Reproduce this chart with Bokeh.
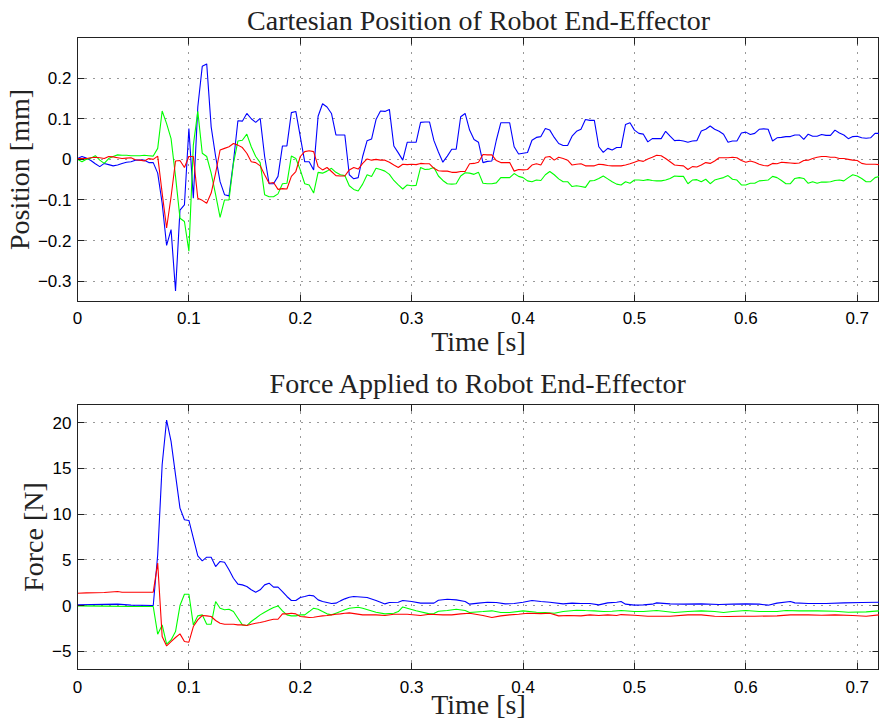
from bokeh.plotting import figure
from bokeh.models import LinearAxis, FixedTicker, Range1d
from bokeh.layouts import column
from bokeh.embed import file_html
from bokeh.resources import INLINE

# ---------------- data ----------------
SAMPLE_PERIOD = 0.004  # s, sampling of the position signals (181 samples, 0 .. 0.72 s)

# Cartesian position of end-effector [mm], one value per sample
POS_BLUE = [
    0.002, 0.007, 0.003, -0.003, -0.011, -0.018, -0.010, -0.013, -0.016, -0.014,
    -0.010, -0.007, -0.006, -0.002, -0.002, -0.002, -0.008, -0.008, -0.034, -0.108,
    -0.212, -0.173, -0.324, -0.125, -0.112, 0.076, -0.096, 0.129, 0.229, 0.235,
    0.080, 0.007, -0.055, -0.087, -0.090, -0.006, 0.095, 0.094, 0.113, 0.100,
    0.091, 0.101, 0.007, -0.060, -0.060, -0.042, 0.033, 0.033, 0.115, 0.118,
    0.056, -0.006, -0.006, -0.026, 0.106, 0.137, 0.129, 0.113, 0.060, 0.060,
    0.060, -0.038, -0.048, -0.045, 0.007, 0.046, 0.050, 0.098, 0.119, 0.118,
    0.123, 0.033, 0.016, -0.002, 0.042, 0.042, 0.042, 0.091, 0.092, 0.092,
    0.046, 0.018, -0.007, 0.008, 0.025, 0.025, 0.105, 0.113, 0.072, 0.049,
    0.042, -0.008, -0.005, -0.004, 0.047, 0.090, 0.090, 0.090, 0.031, 0.013,
    0.015, 0.017, 0.047, 0.054, 0.056, 0.076, 0.072, 0.054, 0.039, 0.034,
    0.034, 0.057, 0.069, 0.074, 0.098, 0.096, 0.096, 0.031, 0.017, 0.027,
    0.023, 0.029, 0.029, 0.086, 0.090, 0.072, 0.064, 0.062, 0.043, 0.051,
    0.051, 0.051, 0.069, 0.057, 0.046, 0.047, 0.045, 0.042, 0.045, 0.046,
    0.070, 0.074, 0.082, 0.074, 0.069, 0.062, 0.042, 0.045, 0.045, 0.065,
    0.067, 0.061, 0.064, 0.074, 0.075, 0.074, 0.045, 0.053, 0.054, 0.056,
    0.056, 0.060, 0.060, 0.049, 0.062, 0.057, 0.057, 0.061, 0.059, 0.059,
    0.072, 0.065, 0.060, 0.051, 0.056, 0.057, 0.053, 0.052, 0.053, 0.064, 0.064,
]
POS_GREEN = [
    0.000, -0.006, 0.000, 0.003, 0.009, -0.002, -0.010, 0.002, 0.007, 0.011,
    0.010, 0.010, 0.009, 0.009, 0.009, 0.010, 0.009, 0.008, 0.027, 0.119,
    0.088, 0.051, -0.042, -0.145, -0.153, -0.226, 0.035, 0.118, 0.015, 0.007,
    -0.034, -0.087, -0.143, -0.100, -0.100, -0.010, 0.045, 0.047, 0.062, 0.031,
    0.007, -0.008, -0.087, -0.092, -0.092, -0.085, -0.060, -0.059, 0.008, 0.002,
    -0.026, -0.060, -0.063, -0.083, -0.032, -0.034, -0.029, -0.022, -0.032, -0.038,
    -0.040, -0.065, -0.074, -0.078, -0.061, -0.038, -0.042, -0.022, -0.025, -0.029,
    -0.037, -0.052, -0.063, -0.073, -0.063, -0.065, -0.064, -0.020, -0.025, -0.024,
    -0.020, -0.041, -0.052, -0.060, -0.061, -0.060, -0.041, -0.033, -0.034, -0.037,
    -0.032, -0.059, -0.060, -0.060, -0.058, -0.045, -0.045, -0.045, -0.035, -0.042,
    -0.045, -0.053, -0.055, -0.051, -0.052, -0.038, -0.030, -0.038, -0.048, -0.055,
    -0.055, -0.067, -0.065, -0.067, -0.069, -0.053, -0.052, -0.047, -0.041, -0.048,
    -0.055, -0.061, -0.063, -0.055, -0.059, -0.051, -0.051, -0.052, -0.050, -0.052,
    -0.053, -0.053, -0.051, -0.047, -0.041, -0.042, -0.042, -0.060, -0.051, -0.050,
    -0.055, -0.049, -0.060, -0.051, -0.048, -0.045, -0.040, -0.049, -0.051, -0.063,
    -0.063, -0.059, -0.059, -0.053, -0.052, -0.051, -0.042, -0.045, -0.052, -0.060,
    -0.060, -0.047, -0.045, -0.047, -0.059, -0.055, -0.059, -0.056, -0.056, -0.055,
    -0.052, -0.051, -0.053, -0.045, -0.038, -0.041, -0.047, -0.055, -0.055, -0.045, -0.042,
]
POS_RED = [
    0.002, 0.002, 0.002, 0.004, 0.005, 0.004, 0.002, 0.007, 0.006, 0.004,
    0.002, 0.003, 0.004, -0.001, -0.002, -0.004, 0.002, 0.000, 0.008, -0.083,
    -0.169, -0.092, -0.004, -0.003, -0.020, 0.007, 0.007, -0.096, -0.101, -0.108,
    -0.083, -0.034, 0.023, 0.027, 0.031, 0.039, 0.035, 0.029, 0.015, -0.006,
    -0.008, -0.016, -0.038, -0.059, -0.057, -0.074, -0.072, -0.073, -0.042, -0.030,
    0.007, 0.019, 0.021, 0.019, -0.018, -0.026, -0.020, -0.030, -0.040, -0.041,
    -0.041, -0.026, -0.020, -0.024, -0.010, 0.001, -0.002, 0.000, -0.002, -0.002,
    -0.007, -0.014, -0.020, -0.012, -0.013, -0.012, -0.013, -0.010, -0.011, -0.011,
    -0.022, -0.028, -0.029, -0.029, -0.032, -0.032, -0.030, -0.030, -0.011, -0.010,
    -0.007, 0.012, 0.011, 0.011, -0.003, -0.008, -0.008, -0.008, -0.029, -0.025,
    -0.026, -0.025, -0.014, -0.011, -0.014, 0.005, 0.007, -0.002, 0.005, 0.002,
    -0.002, -0.014, -0.012, -0.011, -0.016, -0.016, -0.016, -0.012, -0.013, -0.015,
    -0.016, -0.016, -0.016, -0.014, -0.011, -0.007, -0.003, -0.005, 0.001, 0.005,
    0.010, 0.009, 0.002, -0.006, -0.014, -0.015, -0.016, -0.025, -0.018, -0.019,
    -0.014, -0.008, -0.010, -0.004, 0.004, 0.004, 0.004, 0.005, 0.004, -0.003,
    -0.007, -0.004, -0.007, -0.012, -0.015, -0.016, -0.010, -0.011, -0.007, -0.008,
    -0.009, -0.010, -0.009, -0.003, -0.002, 0.002, 0.005, 0.007, 0.007, 0.005,
    0.005, 0.002, 0.002, 0.000, -0.002, -0.003, -0.010, -0.012, -0.012, -0.012, -0.013,
]

# Force applied to end-effector [N], (time [s], force [N]) at the visible vertices
FORCE_BLUE = [
    (0.000, 0.07), (0.036, 0.15), (0.048, 0.04), (0.068, 0.00), (0.072, 5.55),
    (0.076, 15.40), (0.080, 20.30), (0.084, 17.96), (0.088, 14.30), (0.092, 10.66),
    (0.096, 9.38), (0.100, 9.31), (0.104, 7.37), (0.108, 5.44), (0.112, 4.89),
    (0.116, 5.29), (0.120, 5.29), (0.124, 4.27), (0.128, 4.82), (0.132, 4.74),
    (0.136, 3.91), (0.140, 2.99), (0.144, 2.34), (0.148, 2.26), (0.152, 2.08),
    (0.156, 1.72), (0.160, 1.46), (0.164, 1.72), (0.168, 2.26), (0.172, 2.45),
    (0.176, 2.01), (0.180, 2.01), (0.184, 1.53), (0.188, 0.99), (0.192, 0.55),
    (0.196, 0.55), (0.200, 0.88), (0.204, 0.99), (0.208, 1.13), (0.212, 1.06),
    (0.216, 0.62), (0.220, 0.44), (0.224, 0.33), (0.228, 0.22), (0.232, 0.26),
    (0.236, 0.51), (0.240, 0.73), (0.244, 0.91), (0.248, 0.99), (0.260, 0.88),
    (0.268, 0.55), (0.276, 0.18), (0.280, 0.33), (0.288, 0.36), (0.292, 0.55),
    (0.300, 0.44), (0.308, 0.26), (0.316, 0.26), (0.320, 0.26), (0.324, 0.58),
    (0.332, 0.69), (0.340, 0.62), (0.348, 0.44), (0.352, 0.15), (0.360, 0.26),
    (0.368, 0.36), (0.376, 0.33), (0.384, 0.18), (0.392, 0.22), (0.400, 0.36),
    (0.408, 0.55), (0.416, 0.44), (0.424, 0.36), (0.436, 0.18), (0.444, 0.26),
    (0.452, 0.22), (0.460, 0.22), (0.468, 0.07), (0.476, 0.29), (0.484, 0.36),
    (0.488, 0.44), (0.492, 0.15), (0.500, 0.04), (0.508, 0.07), (0.516, 0.15),
    (0.520, 0.29), (0.532, 0.18), (0.544, 0.15), (0.560, 0.18), (0.576, 0.11),
    (0.588, 0.15), (0.600, 0.18), (0.612, 0.15), (0.620, 0.04), (0.628, 0.26),
    (0.640, 0.44), (0.644, 0.29), (0.656, 0.22), (0.672, 0.22), (0.688, 0.29),
    (0.704, 0.33), (0.720, 0.36),
]
FORCE_GREEN = [
    (0.000, -0.04), (0.024, -0.07), (0.048, -0.11), (0.068, -0.11), (0.072, -3.14),
    (0.076, -2.12), (0.080, -4.23), (0.084, -3.76), (0.088, -2.85), (0.092, 0.00),
    (0.096, 1.24), (0.100, 1.24), (0.104, -2.12), (0.108, -1.13), (0.112, -1.02),
    (0.116, -2.04), (0.120, -2.04), (0.124, 0.44), (0.128, -0.29), (0.132, -0.47),
    (0.136, -0.40), (0.140, -0.66), (0.144, -1.39), (0.148, -2.12), (0.152, -2.19),
    (0.156, -1.75), (0.160, -1.39), (0.164, -1.02), (0.168, -0.73), (0.172, -0.47),
    (0.176, -0.22), (0.180, -0.04), (0.184, -0.58), (0.188, -1.02), (0.192, -1.13),
    (0.196, -1.13), (0.200, -1.02), (0.204, -1.02), (0.208, -0.66), (0.212, -0.29),
    (0.216, -0.40), (0.220, -0.66), (0.224, -0.91), (0.228, -1.02), (0.232, -0.84),
    (0.236, -0.66), (0.240, -0.47), (0.244, -0.29), (0.252, -0.18), (0.256, -0.29),
    (0.268, -0.73), (0.276, -0.91), (0.284, -0.84), (0.288, -0.66), (0.292, -0.15),
    (0.296, -0.29), (0.304, -0.58), (0.316, -0.91), (0.320, -0.88), (0.324, -0.62),
    (0.332, -0.55), (0.340, -0.40), (0.348, -0.55), (0.352, -0.77), (0.364, -0.66),
    (0.372, -0.58), (0.380, -0.77), (0.388, -0.77), (0.400, -0.58), (0.412, -0.73),
    (0.420, -0.77), (0.428, -0.84), (0.436, -0.66), (0.448, -0.51), (0.456, -0.55),
    (0.464, -0.58), (0.472, -0.66), (0.480, -0.62), (0.488, -0.55), (0.500, -0.66),
    (0.508, -0.66), (0.520, -0.55), (0.536, -0.77), (0.548, -0.66), (0.560, -0.58),
    (0.572, -0.66), (0.580, -0.77), (0.588, -0.66), (0.600, -0.55), (0.612, -0.66),
    (0.628, -0.66), (0.636, -0.55), (0.648, -0.58), (0.664, -0.58), (0.680, -0.62),
    (0.692, -0.73), (0.708, -0.69), (0.720, -0.58),
]
FORCE_RED = [
    (0.000, 1.35), (0.008, 1.39), (0.024, 1.42), (0.036, 1.53), (0.040, 1.46),
    (0.052, 1.46), (0.068, 1.46), (0.072, 4.64), (0.076, -3.39), (0.080, -4.42),
    (0.084, -3.94), (0.088, -3.50), (0.092, -3.10), (0.096, -3.94), (0.100, -4.01),
    (0.104, -2.30), (0.108, -1.57), (0.112, -1.09), (0.116, -1.13), (0.120, -1.20),
    (0.124, -1.64), (0.128, -1.93), (0.132, -2.04), (0.140, -2.04), (0.144, -2.12),
    (0.148, -2.12), (0.152, -2.19), (0.156, -2.04), (0.160, -1.93), (0.164, -1.86),
    (0.168, -1.75), (0.172, -1.61), (0.176, -1.50), (0.180, -1.50), (0.184, -0.91),
    (0.188, -0.91), (0.192, -0.84), (0.196, -0.91), (0.200, -1.20), (0.204, -1.24),
    (0.208, -1.31), (0.212, -1.28), (0.216, -1.20), (0.220, -1.13), (0.224, -1.09),
    (0.228, -1.02), (0.232, -0.95), (0.236, -0.91), (0.240, -0.84), (0.244, -0.80),
    (0.256, -1.02), (0.268, -1.02), (0.276, -1.09), (0.284, -0.95), (0.296, -0.95),
    (0.308, -1.09), (0.316, -0.95), (0.328, -1.02), (0.336, -1.02), (0.344, -0.91),
    (0.352, -0.84), (0.364, -1.09), (0.372, -1.31), (0.380, -1.13), (0.388, -1.02),
    (0.396, -0.95), (0.404, -0.84), (0.416, -0.88), (0.424, -0.84), (0.432, -1.13),
    (0.440, -1.09), (0.452, -1.13), (0.460, -1.02), (0.468, -1.09), (0.476, -1.02),
    (0.484, -1.09), (0.488, -0.99), (0.500, -1.06), (0.512, -1.17), (0.532, -1.17),
    (0.548, -1.02), (0.560, -1.02), (0.572, -1.17), (0.584, -1.20), (0.596, -1.17),
    (0.608, -1.17), (0.628, -1.13), (0.640, -1.02), (0.656, -1.02), (0.668, -1.06),
    (0.680, -1.02), (0.696, -1.09), (0.708, -1.17), (0.720, -1.02),
]

X_TICKS = [0, 0.1, 0.2, 0.3, 0.4, 0.5, 0.6, 0.7]
X_TICK_LABELS = ["0", "0.1", "0.2", "0.3", "0.4", "0.5", "0.6", "0.7"]
POS_TICKS = [-0.3, -0.2, -0.1, 0, 0.1, 0.2]
POS_TICK_LABELS = ["\u22120.3", "\u22120.2", "\u22120.1", "0", "0.1", "0.2"]
FORCE_TICKS = [-5, 0, 5, 10, 15, 20]
FORCE_TICK_LABELS = ["\u22125", "0", "5", "10", "15", "20"]

TITLES = ["Cartesian Position of Robot End-Effector", "Force Applied to Robot End-Effector"]
Y_LABELS = ["Position [mm]", "Force [N]"]
X_LABEL = "Time [s]"

COLORS = {"blue": "#0000ff", "green": "#00ff00", "red": "#ff0000"}

SERIF = "Liberation Serif"
SANS = "Liberation Sans"
FRAME = "#222222"


def style_axis(ax, ticks, labels=None):
    ax.ticker = FixedTicker(ticks=ticks)
    ax.major_tick_in = 7
    ax.major_tick_out = 0
    ax.major_tick_line_color = FRAME
    ax.minor_tick_line_color = None
    ax.axis_line_color = FRAME
    if labels is None:
        # tick marks only: no label text is drawn on the mirror axes
        ax.major_label_overrides = {t: "" for t in ticks}
        ax.major_label_text_color = None
        ax.major_label_text_font_size = "1px"
        ax.major_label_standoff = 0
        ax.axis_label_standoff = 0
    else:
        ax.major_label_overrides = dict(zip(ticks, labels))
        ax.major_label_text_font = SANS
        ax.major_label_text_font_size = "17px"
        ax.major_label_text_color = "#000000"
        ax.axis_label_text_font = SERIF
        ax.axis_label_text_font_style = "normal"
        ax.axis_label_text_font_size = "28px"
        ax.axis_label_text_color = "#222222"


def make_fig(title, ylabel, yr, yticks, ylabels, height, top, bottom,
             title_standoff, lab_standoff, axlab_standoff):
    p = figure(width=879, height=height, x_range=Range1d(0, 0.72), y_range=Range1d(*yr),
               output_backend="svg", toolbar_location=None,
               min_border_left=77, min_border_right=0,
               min_border_top=top, min_border_bottom=bottom)
    p.title.text = title
    p.title.align = "center"
    p.title.text_font = SERIF
    p.title.text_font_size = "28px"
    p.title.text_font_style = "normal"
    p.title.text_color = "#222222"
    p.title.standoff = title_standoff
    p.outline_line_color = FRAME
    p.outline_line_width = 1
    p.background_fill_color = "white"
    p.border_fill_color = "white"

    style_axis(p.xaxis[0], X_TICKS, X_TICK_LABELS)
    p.xaxis[0].axis_label = X_LABEL
    p.xaxis[0].major_label_standoff = lab_standoff
    p.xaxis[0].axis_label_standoff = axlab_standoff
    style_axis(p.yaxis[0], yticks, ylabels)
    p.yaxis[0].axis_label = ylabel
    p.yaxis[0].major_label_standoff = 6
    p.yaxis[0].axis_label_standoff = 0

    ax_top = LinearAxis()
    style_axis(ax_top, X_TICKS)
    p.add_layout(ax_top, "above")
    ax_right = LinearAxis()
    style_axis(ax_right, yticks)
    p.add_layout(ax_right, "right")

    p.xgrid.ticker = FixedTicker(ticks=X_TICKS)
    p.ygrid.ticker = FixedTicker(ticks=yticks)
    p.grid.grid_line_color = "#000000"
    p.grid.grid_line_dash = "1 7"
    p.grid.grid_line_width = 1
    p.grid.grid_line_alpha = 0.8
    return p


t_pos = [round(i * SAMPLE_PERIOD, 3) for i in range(len(POS_BLUE))]

p1 = make_fig(TITLES[0], Y_LABELS[0], (-0.35, 0.3), POS_TICKS, POS_TICK_LABELS,
              360, 37, 59, 4, 10, -1)
p1.line(t_pos, POS_BLUE, line_color=COLORS["blue"], line_width=1.1)
p1.line(t_pos, POS_GREEN, line_color=COLORS["green"], line_width=1.1)
p1.line(t_pos, POS_RED, line_color=COLORS["red"], line_width=1.1)

p2 = make_fig(TITLES[1], Y_LABELS[1], (-7, 22), FORCE_TICKS, FORCE_TICK_LABELS,
              363, 44, 54, 11, 11, -7)
for series, col in ((FORCE_BLUE, "blue"), (FORCE_GREEN, "green"), (FORCE_RED, "red")):
    p2.line([a for a, _ in series], [b for _, b in series], line_color=COLORS[col], line_width=1.1)

layout = column(p1, p2, spacing=0)
open("out.html", "w").write(file_html(layout, INLINE))
